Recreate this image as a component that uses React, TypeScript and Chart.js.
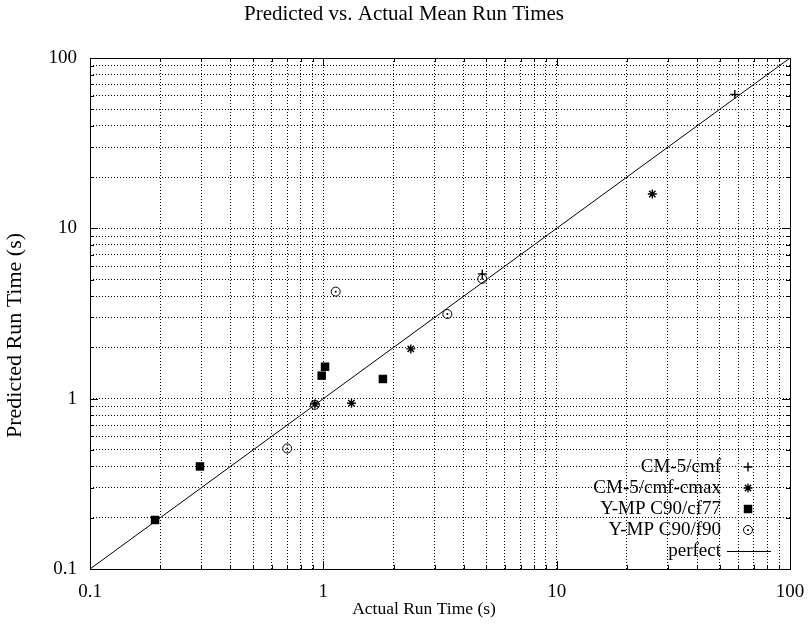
import { useEffect, useRef } from 'react';
import { Chart, registerables } from 'chart.js';
import { drawPoint } from 'chart.js/helpers';

Chart.register(...registerables);

const titleText = 'Predicted vs. Actual Mean Run Times';
const xTitle = 'Actual Run Time (s)';
const yTitle = 'Predicted Run Time (s)';

const axisMin = 0.1;
const axisMax = 100;
const decades = [0.1, 1, 10];
const multipliers = [1, 2, 3, 4, 5, 6, 7, 8, 9];
const majorTicks = [0.1, 1, 10, 100];
const majorLabels = ['0.1', '1', '10', '100'];

const seriesNames = ['CM-5/cmf', 'CM-5/cmf-cmax', 'Y-MP C90/cf77', 'Y-MP C90/f90', 'perfect'];

const cmfX = [4.8, 58];
const cmfY = [5.4, 61];

const cmaxX = [0.92, 1.32, 2.37, 25.7];
const cmaxY = [0.93, 0.94, 1.96, 15.9];

const cf77X = [0.19, 0.296, 0.984, 1.017, 1.8];
const cf77Y = [0.194, 0.4, 1.365, 1.54, 1.305];

const f90X = [0.7, 0.92, 1.13, 3.4, 4.8];
const f90Y = [0.51, 0.92, 4.25, 3.14, 5.05];

const perfectX = [0.1, 100];
const perfectY = [0.1, 100];

const FONT = '"Liberation Serif", "DejaVu Serif", serif';
const FS = 19;
const TITLE_FS = 21;
const XT_FS = 17.5;
const YT_FS = 22;

const allTicks: number[] = [];
decades.forEach((d) => multipliers.forEach((m) => allTicks.push(+(d * m).toPrecision(6))));
allTicks.push(100);

const zip = (xs: number[], ys: number[]) => xs.map((x, i) => ({ x, y: ys[i] }));

const isMajor = (v: number) => majorTicks.some((m) => Math.abs(m - v) / m < 1e-6);

const legendItems = [
  { name: seriesNames[0], style: 'cross', radius: 4.5, fill: '#000', width: 1.4 },
  { name: seriesNames[1], style: 'star', radius: 4.5, fill: '#000', width: 1.4 },
  { name: seriesNames[2], style: 'rect', radius: 6, fill: '#000', width: 0 },
  { name: seriesNames[3], style: 'circle', radius: 4.5, fill: 'rgba(0,0,0,0)', width: 1, dot: true },
  { name: seriesNames[4], style: 'line' },
];

const framePlugin = {
  id: 'frame',
  afterDatasetsDraw(chart: any) {
    const { ctx, chartArea: a } = chart;
    ctx.save();
    ctx.strokeStyle = '#000';
    ctx.lineWidth = 1;
    ctx.strokeRect(Math.round(a.left) + 0.5, Math.round(a.top) + 0.5, Math.round(a.right - a.left), Math.round(a.bottom - a.top));
    const xs = chart.scales.x;
    const ys = chart.scales.y;
    ctx.beginPath();
    xs.ticks.forEach((t: any) => {
      const px = Math.round(xs.getPixelForValue(t.value)) + 0.5;
      const len = isMajor(t.value) ? 8 : 4;
      ctx.moveTo(px, a.bottom);
      ctx.lineTo(px, a.bottom - len);
      ctx.moveTo(px, a.top);
      ctx.lineTo(px, a.top + len);
    });
    ys.ticks.forEach((t: any) => {
      const py = Math.round(ys.getPixelForValue(t.value)) + 0.5;
      const len = isMajor(t.value) ? 8 : 4;
      ctx.moveTo(a.left, py);
      ctx.lineTo(a.left + len, py);
      ctx.moveTo(a.right, py);
      ctx.lineTo(a.right - len, py);
    });
    ctx.stroke();
    ctx.restore();
  },
  afterDraw(chart: any) {
    const { ctx, chartArea: a, width } = chart;
    ctx.save();
    ctx.fillStyle = '#000';
    ctx.textAlign = 'center';
    ctx.textBaseline = 'middle';
    ctx.font = `${TITLE_FS}px ${FONT}`;
    ctx.fillText(titleText, width / 2, 14);
    ctx.font = `${XT_FS}px ${FONT}`;
    ctx.fillText(xTitle, (a.left + a.right) / 2 - 16, 609);
    ctx.save();
    ctx.font = `${YT_FS}px ${FONT}`;
    ctx.translate(15, (a.top + a.bottom) / 2 + 22);
    ctx.rotate(-Math.PI / 2);
    ctx.fillText(yTitle, 0, 0);
    ctx.restore();
    // legend
    ctx.font = `${FS}px ${FONT}`;
    const textRight = 721;
    const symX = 748;
    const y0 = 467;
    const step = 21;
    ctx.textAlign = 'right';
    legendItems.forEach((it: any, i: number) => {
      const y = y0 + i * step;
      ctx.fillStyle = '#000';
      ctx.fillText(it.name, textRight, y);
      ctx.strokeStyle = '#000';
      if (it.style === 'line') {
        ctx.lineWidth = 1;
        ctx.beginPath();
        ctx.moveTo(727, Math.round(y) + 0.5);
        ctx.lineTo(771, Math.round(y) + 0.5);
        ctx.stroke();
      } else {
        ctx.fillStyle = it.fill;
        ctx.lineWidth = it.width;
        drawPoint(ctx, { pointStyle: it.style, radius: it.radius, rotation: 0, borderWidth: it.width }, symX, y);
        if (it.dot) {
          ctx.fillStyle = '#000';
          drawPoint(ctx, { pointStyle: 'circle', radius: 1, rotation: 0, borderWidth: 0 }, symX, y);
        }
      }
    });
    ctx.restore();
  },
};

export default function App() {
  const ref = useRef<HTMLCanvasElement | null>(null);
  useEffect(() => {
    document.body.style.margin = '0';
    const gridCfg = {
      color: '#000',
      lineWidth: 1,
      drawTicks: false,
      tickLength: 0,
    };
    const chart = new Chart(ref.current!, {
      type: 'scatter',
      data: {
        datasets: [
          {
            label: seriesNames[0],
            data: zip(cmfX, cmfY),
            pointStyle: 'cross',
            pointRadius: 4.5,
            borderColor: '#000',
            backgroundColor: '#000',
            borderWidth: 1.4,
          },
          {
            label: seriesNames[1],
            data: zip(cmaxX, cmaxY),
            pointStyle: 'star',
            pointRadius: 4.5,
            borderColor: '#000',
            backgroundColor: '#000',
            borderWidth: 1.4,
          },
          {
            label: seriesNames[2],
            data: zip(cf77X, cf77Y),
            pointStyle: 'rect',
            pointRadius: 6,
            borderColor: '#000',
            backgroundColor: '#000',
            borderWidth: 0,
          },
          {
            label: seriesNames[3],
            data: zip(f90X, f90Y),
            pointStyle: 'circle',
            pointRadius: 4.5,
            borderColor: '#000',
            backgroundColor: 'rgba(0,0,0,0)',
            borderWidth: 1,
          },
          {
            label: seriesNames[3] + ' centre',
            data: zip(f90X, f90Y),
            pointStyle: 'circle',
            pointRadius: 1,
            borderColor: '#000',
            backgroundColor: '#000',
            borderWidth: 0,
          },
          {
            type: 'line',
            label: seriesNames[4],
            data: zip(perfectX, perfectY),
            borderColor: '#000',
            borderWidth: 1,
            pointRadius: 0,
            showLine: true,
            fill: false,
          } as any,
        ],
      },
      options: {
        animation: false,
        responsive: false,
        layout: { padding: { top: 58, right: 18, left: 0, bottom: 0 } },
        plugins: {
          legend: { display: false },
          title: { display: false },
          tooltip: { enabled: false },
        },
        scales: {
          x: {
            type: 'logarithmic',
            min: axisMin,
            max: axisMax,
            border: { display: false, dash: [1, 2] },
            grid: { ...gridCfg } as any,
            afterBuildTicks: (s: any) => {
              s.ticks = allTicks.map((v) => ({ value: v, major: isMajor(v) }));
            },
            afterFit: (s: any) => {
              s.height = 55;
              s.paddingLeft = 0;
              s.paddingRight = 0;
            },
            ticks: {
              autoSkip: false,
              maxRotation: 0,
              padding: 12,
              color: '#000',
              font: { family: FONT, size: FS },
              callback: (v: any) => {
                const idx = majorTicks.findIndex((m) => Math.abs(m - v) / m < 1e-6);
                return idx >= 0 ? majorLabels[idx] : '';
              },
            },
          },
          y: {
            type: 'logarithmic',
            min: axisMin,
            max: axisMax,
            border: { display: false, dash: [1, 2] },
            grid: { ...gridCfg } as any,
            afterBuildTicks: (s: any) => {
              s.ticks = allTicks.map((v) => ({ value: v, major: isMajor(v) }));
            },
            afterFit: (s: any) => {
              s.width = 90;
              s.paddingTop = 0;
              s.paddingBottom = 0;
            },
            ticks: {
              autoSkip: false,
              padding: 13,
              color: '#000',
              font: { family: FONT, size: FS },
              callback: (v: any) => {
                const idx = majorTicks.findIndex((m) => Math.abs(m - v) / m < 1e-6);
                return idx >= 0 ? majorLabels[idx] : '';
              },
            },
          },
        },
      },
      plugins: [framePlugin],
    });
    return () => chart.destroy();
  }, []);
  return (
    <div style={{ width: 808, height: 624 }}>
      <canvas ref={ref} width={808} height={624} />
    </div>
  );
}
